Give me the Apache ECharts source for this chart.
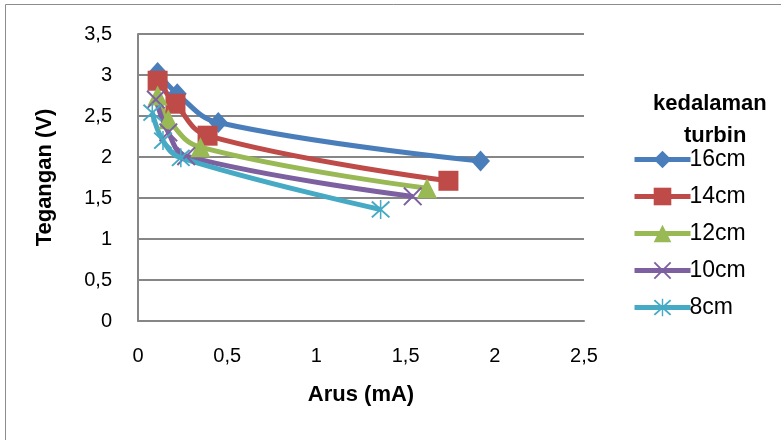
<!DOCTYPE html>
<html>
<head>
<meta charset="utf-8">
<script src="https://cdn.jsdelivr.net/npm/echarts@6/dist/echarts.min.js"></script>
<style>
  html, body { margin: 0; padding: 0; background: #fff; }
  #chart { width: 781px; height: 440px; }
</style>
</head>
<body>
<div id="chart"></div>
<script>
// values
var seriesNames = ['16cm', '14cm', '12cm', '10cm', '8cm'];
var arus16 = [0.11, 0.22, 0.45, 1.92];
var tegangan16 = [3.03, 2.77, 2.42, 1.95];
var arus14 = [0.11, 0.21, 0.39, 1.74];
var tegangan14 = [2.93, 2.65, 2.26, 1.71];
var arus12 = [0.11, 0.17, 0.35, 1.62];
var tegangan12 = [2.75, 2.46, 2.12, 1.62];
var arus10 = [0.10, 0.17, 0.27, 1.54];
var tegangan10 = [2.70, 2.30, 2.01, 1.52];
var arus8 = [0.08, 0.14, 0.24, 1.36];
var tegangan8 = [2.54, 2.20, 1.99, 1.36];

var colors = ['#4A7EBB', '#BE4B48', '#98B954', '#7D60A0', '#46AAC5'];

var crossPath = 'path://M0,1.5 L1.5,0 L10,8.5 L18.5,0 L20,1.5 L11.5,10 L20,18.5 L18.5,20 L10,11.5 L1.5,20 L0,18.5 L8.5,10 Z';
var starPath = 'path://M0,1.5 L1.5,0 L10,8.5 L18.5,0 L20,1.5 L11.5,10 L20,18.5 L18.5,20 L10,11.5 L1.5,20 L0,18.5 L8.5,10 Z M9.2,-1 L10.8,-1 L10.8,21 L9.2,21 Z';
var symbols = ['diamond', 'rect', 'triangle', crossPath, starPath];
var symbolSizes = [[19, 21], 20, 20, 19, 19];

function pairs(xs, ys) {
  return xs.map(function (x, i) { return [x, ys[i]]; });
}
var allData = [
  pairs(arus16, tegangan16),
  pairs(arus14, tegangan14),
  pairs(arus12, tegangan12),
  pairs(arus10, tegangan10),
  pairs(arus8, tegangan8)
];

function comma(v) { return String(v).replace('.', ','); }

var chart = echarts.init(document.getElementById('chart'));
var option = {
  animation: false,
  color: colors,
  textStyle: { fontFamily: 'Liberation Sans' },
  graphic: [
    {
      type: 'rect',
      shape: { x: 5.5, y: 4.5, width: 800, height: 460 },
      style: { fill: 'none', stroke: '#8c8c8c', lineWidth: 1 },
      silent: true
    },
    {
      type: 'text',
      left: 653, top: 93,
      style: {
        text: 'kedalaman',
        font: 'bold 22px "Liberation Sans"',
        fill: '#000'
      }
    },
    {
      type: 'text',
      left: 684, top: 125,
      style: {
        text: 'turbin',
        font: 'bold 22px "Liberation Sans"',
        fill: '#000'
      }
    }
  ],
  grid: { left: 138, right: 197, top: 34, bottom: 119 },
  legend: {
    orient: 'vertical',
    left: 627,
    top: 143,
    itemWidth: 56,
    itemHeight: 22,
    itemGap: 14,
    data: seriesNames,
    lineStyle: { width: 5 },
    textStyle: { fontSize: 23, color: '#000', padding: [0, 0, 0, -6] }
  },
  xAxis: {
    type: 'value',
    min: 0, max: 2.5, interval: 0.5,
    name: 'Arus (mA)',
    nameLocation: 'middle',
    nameGap: 63,
    nameTextStyle: { fontSize: 22, fontWeight: 'bold', color: '#000' },
    axisLine: { show: true, lineStyle: { color: '#868686', width: 2 } },
    axisTick: { show: false },
    axisLabel: { fontSize: 20, color: '#000', margin: 25, formatter: comma },
    splitLine: { show: false }
  },
  yAxis: {
    type: 'value',
    min: 0, max: 3.5, interval: 0.5,
    name: 'Tegangan (V)',
    nameLocation: 'middle',
    nameGap: 82,
    nameTextStyle: { fontSize: 22, fontWeight: 'bold', color: '#000' },
    axisLine: { show: true, lineStyle: { color: '#868686', width: 2 } },
    axisTick: { show: false },
    axisLabel: { fontSize: 20, color: '#000', margin: 26, formatter: comma },
    splitLine: { show: true, lineStyle: { color: '#868686', width: 2 } }
  },
  series: seriesNames.map(function (name, i) {
    return {
      name: name,
      type: 'line',
      data: allData[i],
      smooth: 0.4,
      symbol: symbols[i],
      symbolSize: symbolSizes[i],
      showSymbol: true,
      lineStyle: { width: 5, color: colors[i] },
      itemStyle: { color: colors[i] }
    };
  })
};
chart.setOption(option);
</script>
</body>
</html>
